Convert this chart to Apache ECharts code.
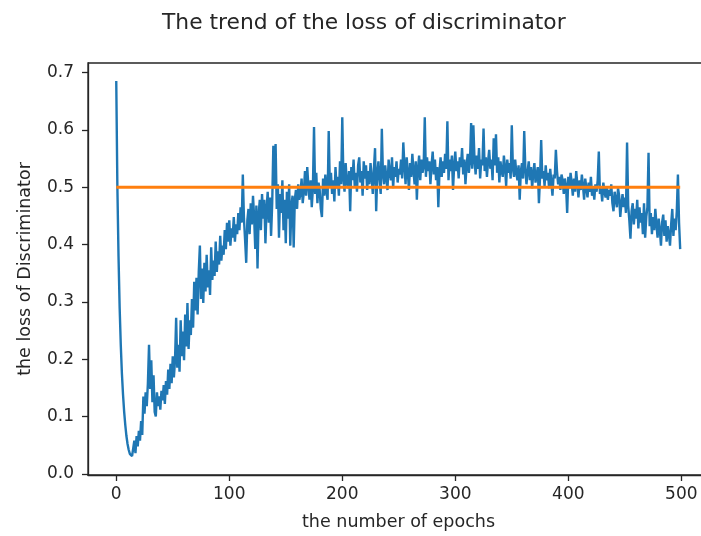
<!DOCTYPE html>
<html>
<head>
<meta charset="utf-8">
<script src="https://cdn.jsdelivr.net/npm/echarts@6/dist/echarts.min.js"></script>
<style>
html, body { margin: 0; padding: 0; background: #fff; overflow: hidden; }
/* the plot box runs past the right edge of the picture, as in the original */
#main { width: 730px; height: 536px; }
</style>
</head>
<body>
<div id="main"></div>
<script>
// discriminator loss per epoch
const lossD = [
  0.685, 0.50, 0.38, 0.29, 0.225, 0.175, 0.138, 0.108, 0.085, 0.066,
  0.052, 0.042, 0.035, 0.032, 0.031, 0.034, 0.058, 0.036, 0.066, 0.048,
  0.075, 0.058, 0.092, 0.068, 0.135, 0.105, 0.142, 0.118, 0.158, 0.225,
  0.148, 0.198, 0.125, 0.172, 0.108, 0.100, 0.142, 0.118, 0.135, 0.112,
  0.145, 0.128, 0.155, 0.122, 0.162, 0.138, 0.182, 0.148, 0.192, 0.158,
  0.205, 0.168, 0.198, 0.272, 0.185, 0.225, 0.178, 0.268, 0.205, 0.248,
  0.198, 0.278, 0.222, 0.298, 0.218, 0.268, 0.242, 0.305, 0.255, 0.335,
  0.285, 0.342, 0.278, 0.352, 0.398, 0.305, 0.358, 0.298, 0.368, 0.318,
  0.382, 0.325, 0.355, 0.312, 0.395, 0.338, 0.372, 0.345, 0.405, 0.352,
  0.388, 0.365, 0.415, 0.372, 0.398, 0.382, 0.425, 0.392, 0.438, 0.405,
  0.442, 0.398, 0.428, 0.412, 0.448, 0.405, 0.435, 0.418, 0.455, 0.425,
  0.465, 0.438, 0.522, 0.445, 0.408, 0.368, 0.442, 0.462, 0.418, 0.472,
  0.435, 0.485, 0.448, 0.392, 0.468, 0.358, 0.452, 0.478, 0.425, 0.488,
  0.445, 0.478, 0.402, 0.462, 0.492, 0.438, 0.482, 0.415, 0.472, 0.572,
  0.498, 0.575, 0.462, 0.505, 0.412, 0.488, 0.455, 0.512, 0.425, 0.478,
  0.402, 0.492, 0.445, 0.505, 0.398, 0.468, 0.485, 0.395, 0.478, 0.495,
  0.462, 0.505, 0.478, 0.488, 0.515, 0.472, 0.492, 0.528, 0.485, 0.535,
  0.502, 0.478, 0.512, 0.465, 0.498, 0.605, 0.488, 0.525, 0.472, 0.508,
  0.495, 0.462, 0.448, 0.515, 0.485, 0.522, 0.492, 0.478, 0.598, 0.502,
  0.525, 0.488, 0.512, 0.475, 0.535, 0.498, 0.518, 0.485, 0.545, 0.505,
  0.622, 0.515, 0.492, 0.542, 0.508, 0.498, 0.528, 0.458, 0.535, 0.512,
  0.548, 0.502, 0.525, 0.492, 0.538, 0.552, 0.508, 0.528, 0.485, 0.545,
  0.515, 0.538, 0.495, 0.528, 0.505, 0.542, 0.518, 0.488, 0.532, 0.568,
  0.458, 0.525, 0.545, 0.512, 0.488, 0.602, 0.522, 0.505, 0.538, 0.515,
  0.495, 0.548, 0.525, 0.512, 0.552, 0.498, 0.535, 0.518, 0.545, 0.508,
  0.532, 0.522, 0.548, 0.515, 0.578, 0.538, 0.505, 0.552, 0.525, 0.495,
  0.542, 0.518, 0.558, 0.528, 0.505, 0.545, 0.478, 0.532, 0.555, 0.512,
  0.548, 0.525, 0.535, 0.622, 0.518, 0.552, 0.528, 0.545, 0.505, 0.538,
  0.562, 0.522, 0.548, 0.512, 0.535, 0.465, 0.528, 0.552, 0.518, 0.545,
  0.525, 0.558, 0.532, 0.615, 0.512, 0.548, 0.528, 0.555, 0.495, 0.538,
  0.562, 0.528, 0.545, 0.515, 0.552, 0.535, 0.568, 0.522, 0.548, 0.505,
  0.538, 0.558, 0.525, 0.545, 0.612, 0.532, 0.608, 0.548, 0.522, 0.555,
  0.532, 0.568, 0.515, 0.548, 0.538, 0.602, 0.528, 0.552, 0.518, 0.545,
  0.565, 0.532, 0.548, 0.512, 0.585, 0.538, 0.592, 0.525, 0.552, 0.508,
  0.545, 0.528, 0.518, 0.555, 0.535, 0.502, 0.548, 0.525, 0.542, 0.515,
  0.608, 0.532, 0.518, 0.548, 0.525, 0.512, 0.538, 0.478, 0.528, 0.542,
  0.515, 0.598, 0.532, 0.505, 0.528, 0.545, 0.512, 0.535, 0.498, 0.525,
  0.542, 0.508, 0.522, 0.535, 0.472, 0.518, 0.582, 0.515, 0.528, 0.502,
  0.538, 0.512, 0.525, 0.498, 0.532, 0.508, 0.485, 0.522, 0.515, 0.565,
  0.528, 0.505, 0.518, 0.495, 0.522, 0.512, 0.488, 0.515, 0.502, 0.455,
  0.518, 0.498, 0.525, 0.508, 0.485, 0.515, 0.492, 0.528, 0.505, 0.482,
  0.512, 0.495, 0.522, 0.502, 0.478, 0.515, 0.498, 0.482, 0.508, 0.492,
  0.518, 0.485, 0.502, 0.478, 0.505, 0.492, 0.512, 0.562, 0.488, 0.498,
  0.475, 0.508, 0.492, 0.482, 0.502, 0.478, 0.495, 0.485, 0.505, 0.472,
  0.458, 0.492, 0.478, 0.465, 0.498, 0.485, 0.448, 0.472, 0.488, 0.465,
  0.482, 0.455, 0.578, 0.468, 0.442, 0.410, 0.458, 0.472, 0.435, 0.462,
  0.445, 0.478, 0.428, 0.465, 0.438, 0.455, 0.418, 0.472, 0.412, 0.448,
  0.465, 0.560, 0.432, 0.455, 0.418, 0.448, 0.425, 0.462, 0.435, 0.412,
  0.445, 0.425, 0.398, 0.438, 0.452, 0.415, 0.442, 0.405, 0.432, 0.418,
  0.398, 0.435, 0.462, 0.415, 0.445, 0.425, 0.458, 0.522, 0.438, 0.392
]
// the orange reference line
const refX = [0, 499]
const refY = [0.5, 0.5]
// tick labels
const xTicks = [0, 100, 200, 300, 400, 500]
const yTicks = [0, 0.1, 0.2, 0.3, 0.4, 0.5, 0.6, 0.7]

const font = 'DejaVu Sans'
const ink = '#262626'

const myChart = echarts.init(document.getElementById('main'))
const option = {
    animation: false,
    backgroundColor: '#fff',
    title: {
        text: 'The trend of the loss of discriminator',
        left: 157,
        top: 7,
        textStyle: { fontFamily: font, fontSize: 21.8, fontWeight: 'normal', color: ink }
    },
    grid: {
        left: 88, top: 63, width: 621, height: 413,
        show: true, borderColor: ink, borderWidth: 1.3, backgroundColor: 'transparent'
    },
    xAxis: {
        type: 'value',
        min: -25, max: 524.5,
        name: 'the number of epochs',
        nameLocation: 'middle',
        nameGap: 38,
        nameTextStyle: { fontFamily: font, fontSize: 17.5, color: ink },
        splitLine: { show: false },
        axisLine: { show: true, onZero: false, lineStyle: { color: ink, width: 1.3 } },
        axisTick: { show: true, length: 6, customValues: xTicks, lineStyle: { color: ink, width: 1.3 } },
        axisLabel: { customValues: xTicks, margin: 11, fontFamily: font, fontSize: 17, color: ink }
    },
    yAxis: {
        type: 'value',
        min: -0.002, max: 0.7165,
        name: 'the loss of Discriminator',
        nameLocation: 'middle',
        nameGap: 54,
        nameTextStyle: { fontFamily: font, fontSize: 17.5, color: ink },
        splitLine: { show: false },
        axisLine: { show: true, onZero: false, lineStyle: { color: ink, width: 1.3 } },
        axisTick: { show: true, length: 6, customValues: yTicks, lineStyle: { color: ink, width: 1.3 } },
        axisLabel: {
            customValues: yTicks, margin: 14, fontFamily: font, fontSize: 17, color: ink,
            formatter: v => v.toFixed(1)
        }
    },
    series: [
        {
            type: 'line',
            data: lossD.map((v, i) => [i, v]),
            showSymbol: false,
            lineStyle: { color: '#1f77b4', width: 2.4 },
            z: 2
        },
        {
            type: 'line',
            data: refX.map((x, i) => [x, refY[i]]),
            showSymbol: false,
            lineStyle: { color: '#ff7f0e', width: 3 },
            z: 3
        }
    ]
}
myChart.setOption(option)
</script>
</body>
</html>
